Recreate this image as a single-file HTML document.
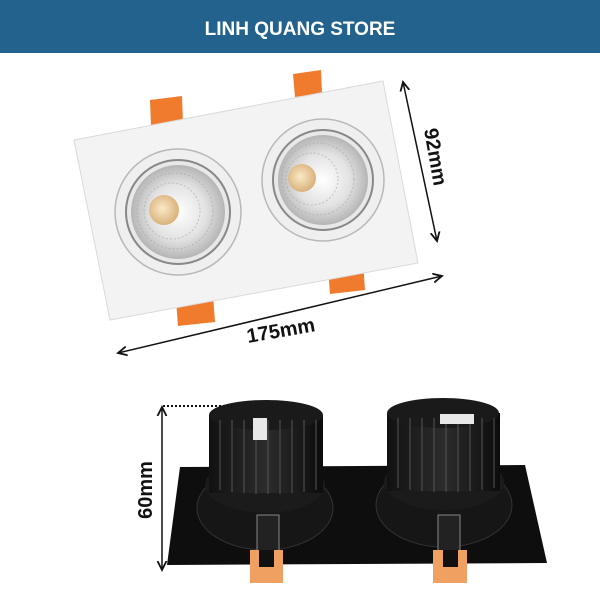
<!DOCTYPE html>
<html><head><meta charset="utf-8"><style>
html,body{margin:0;padding:0;background:#fff;}
svg{display:block}
</style></head><body>
<svg width="600" height="600" viewBox="0 0 600 600" xmlns="http://www.w3.org/2000/svg">
<defs>
<radialGradient id="refl" cx="50%" cy="50%" r="50%">
<stop offset="0" stop-color="#ffffff"/><stop offset="0.6" stop-color="#e2e2e2"/><stop offset="1" stop-color="#b5b5b5"/>
</radialGradient>
<radialGradient id="led" cx="45%" cy="45%" r="55%">
<stop offset="0" stop-color="#fbe9c8"/><stop offset="1" stop-color="#d9b27a"/>
</radialGradient>
<linearGradient id="fin" x1="0" x2="1">
<stop offset="0" stop-color="#111"/><stop offset="0.5" stop-color="#2c2c2c"/><stop offset="1" stop-color="#0c0c0c"/>
</linearGradient>
<marker id="ar" markerWidth="8" markerHeight="8" refX="6" refY="4" orient="auto-start-reverse"><path d="M0,1 L6,4 L0,7" fill="none" stroke="#111" stroke-width="1.2"/></marker>
</defs>
<rect x="0" y="0" width="600" height="53" fill="#22628d"/>
<text x="300" y="35" text-anchor="middle" font-family="Liberation Sans, sans-serif" font-weight="bold" font-size="19" fill="#fff">LINH QUANG STORE</text>

<g fill="#f07b2c">
<polygon points="150,100 182,96 183,123 151,126"/>
<polygon points="293,74 321,70 322,93 295,97"/>
<polygon points="176,300 213,295 215,322 178,326"/>
<polygon points="328,268 363,262 365,290 330,294"/>
</g>
<polygon points="74,140 383,81 418,263 110,320" fill="#f3f3f3" stroke="#dadada" stroke-width="1"/>
<circle cx="178" cy="212" r="63" fill="#efefef" stroke="#b8b8b8" stroke-width="1.5"/>
<circle cx="178" cy="212" r="52" fill="#e8e8e8" stroke="#888" stroke-width="2"/>
<circle cx="178" cy="212" r="47" fill="url(#refl)"/>
<g stroke="#a5a5a5" stroke-width="1" opacity="0.6">
<circle cx="175" cy="211" r="38" fill="none" stroke-dasharray="2 2"/>
<circle cx="172" cy="211" r="28" fill="none" stroke-dasharray="2 2"/>
</g>
<circle cx="164" cy="210" r="15" fill="url(#led)"/>
<circle cx="323" cy="180" r="61" fill="#efefef" stroke="#b8b8b8" stroke-width="1.5"/>
<circle cx="323" cy="180" r="50" fill="#e8e8e8" stroke="#888" stroke-width="2"/>
<circle cx="323" cy="180" r="45" fill="url(#refl)"/>
<g stroke="#a5a5a5" stroke-width="1" opacity="0.6">
<circle cx="318" cy="179" r="36" fill="none" stroke-dasharray="2 2"/>
<circle cx="312" cy="179" r="26" fill="none" stroke-dasharray="2 2"/>
</g>
<circle cx="302" cy="178" r="14" fill="url(#led)"/>

<line x1="403" y1="82" x2="437" y2="241" stroke="#111" stroke-width="1.5" marker-start="url(#ar)" marker-end="url(#ar)"/>
<text transform="translate(429,158) rotate(80)" text-anchor="middle" font-family="Liberation Sans, sans-serif" font-weight="bold" font-size="20" fill="#111">92mm</text>
<line x1="118" y1="353" x2="442" y2="276" stroke="#111" stroke-width="1.5" marker-start="url(#ar)" marker-end="url(#ar)"/>
<text transform="translate(282,337) rotate(-10)" text-anchor="middle" font-family="Liberation Sans, sans-serif" font-weight="bold" font-size="20" fill="#111">175mm</text>

<polygon points="180,467 525,465 547,563 167,565" fill="#0e0e0e"/>
<ellipse cx="265" cy="508" rx="68" ry="42" fill="#161616" stroke="#333"/>
<ellipse cx="444" cy="505" rx="68" ry="42" fill="#161616" stroke="#333"/>
<ellipse cx="265" cy="485" rx="60" ry="28" fill="#1b1b1b"/>
<ellipse cx="444" cy="482" rx="60" ry="28" fill="#1b1b1b"/>
<rect x="209" y="415" width="114" height="78" fill="url(#fin)"/>
<ellipse cx="266" cy="415" rx="57" ry="15" fill="#1a1a1a"/>
<rect x="387" y="413" width="113" height="78" fill="url(#fin)"/>
<ellipse cx="443" cy="413" rx="56" ry="15" fill="#1a1a1a"/>
<g stroke="#555" stroke-width="1">
<line x1="220" y1="420" x2="220" y2="490"/><line x1="232" y1="420" x2="232" y2="492"/><line x1="244" y1="420" x2="244" y2="493"/><line x1="256" y1="420" x2="256" y2="494"/><line x1="268" y1="420" x2="268" y2="494"/><line x1="280" y1="420" x2="280" y2="494"/><line x1="292" y1="420" x2="292" y2="493"/><line x1="304" y1="420" x2="304" y2="492"/><line x1="316" y1="420" x2="316" y2="490"/>
<line x1="398" y1="418" x2="398" y2="488"/><line x1="410" y1="418" x2="410" y2="490"/><line x1="422" y1="418" x2="422" y2="491"/><line x1="434" y1="418" x2="434" y2="492"/><line x1="446" y1="418" x2="446" y2="492"/><line x1="458" y1="418" x2="458" y2="492"/><line x1="470" y1="418" x2="470" y2="491"/><line x1="482" y1="418" x2="482" y2="490"/><line x1="494" y1="418" x2="494" y2="488"/>
</g>
<rect x="253" y="418" width="14" height="22" fill="#e8e8e8"/>
<rect x="440" y="414" width="34" height="10" fill="#e8e8e8"/>
<rect x="257" y="515" width="22" height="40" fill="#222" stroke="#888"/>
<rect x="438" y="515" width="22" height="40" fill="#222" stroke="#888"/>
<rect x="250" y="550" width="33" height="33" fill="#f0a060"/>
<rect x="259" y="550" width="15" height="17" fill="#111"/>
<rect x="433" y="550" width="34" height="33" fill="#f0a060"/>
<rect x="443" y="550" width="15" height="17" fill="#111"/>

<line x1="162" y1="407" x2="162" y2="570" stroke="#111" stroke-width="1.5" marker-start="url(#ar)" marker-end="url(#ar)"/>
<line x1="163" y1="406" x2="236" y2="406" stroke="#111" stroke-width="2" stroke-dasharray="2 2"/>
<text transform="translate(152,490) rotate(-90)" text-anchor="middle" font-family="Liberation Sans, sans-serif" font-weight="bold" font-size="20" fill="#111">60mm</text>
</svg>
</body></html>
